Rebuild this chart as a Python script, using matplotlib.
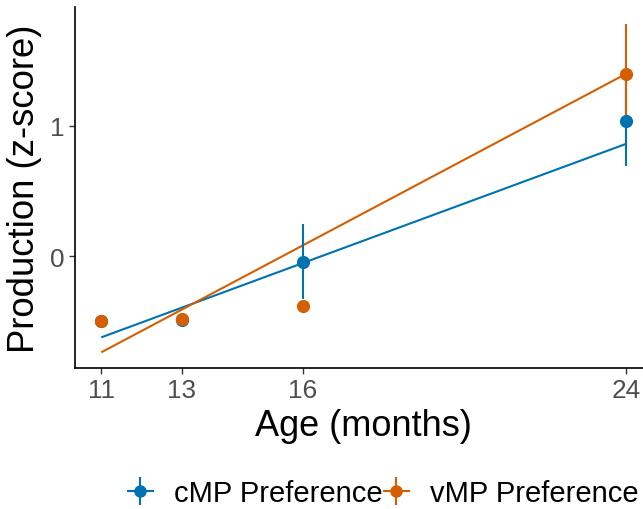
import matplotlib
matplotlib.use("Agg")
import matplotlib.pyplot as plt
from matplotlib.lines import Line2D
import numpy as np

plt.rcParams['font.family'] = ['Liberation Sans', 'DejaVu Sans']

# ---- data ----
ages = [11, 13, 16, 24]
series_names = ["cMP Preference", "vMP Preference"]
cmp_mean = [-0.494, -0.490, -0.041, 1.036]
cmp_err = [0.03, 0.03, 0.29, 0.34]
vmp_mean = [-0.494, -0.480, -0.384, 1.400]
vmp_err = [0.03, 0.03, 0.03, 0.38]
# fitted (model) line values at first and last age
fit_x = [11, 24]
cmp_fit = [-0.622, 0.862]
vmp_fit = [-0.737, 1.399]
x_ticks = [11, 13, 16, 24]
y_ticks = [0, 1]

colors = ["#0072B2", "#D55E00"]

W, H = 643, 510
fig = plt.figure(figsize=(W / 100, H / 100), dpi=100)
ax = fig.add_axes([75 / W, 1 - 369 / H, (652 - 75) / W, (369 - 8) / H])

means = [cmp_mean, vmp_mean]
errs = [cmp_err, vmp_err]
fits = [cmp_fit, vmp_fit]

for fit, c in zip(fits, colors):
    ax.plot(fit_x, fit, color=c, lw=1.5, zorder=2, solid_capstyle='butt')
for m, e, c in zip(means, errs, colors):
    ax.errorbar(ages, m, yerr=e, fmt='none', ecolor=c, elinewidth=1.5, capsize=0, zorder=3)
for m, c in zip(means, colors):
    ax.plot(ages, m, 'o', color=c, markersize=9.5, markeredgewidth=0, zorder=4)

ax.set_xlim(10.35, 24.65)
ax.set_ylim(-0.857, 1.913)
ax.set_xticks(x_ticks)
ax.set_yticks(y_ticks)
ax.tick_params(axis='both', labelsize=18.8, labelcolor='#4D4D4D', color='#333333',
               length=4, width=1)
ax.spines['top'].set_visible(False)
ax.spines['right'].set_visible(False)
for s in ['left', 'bottom']:
    ax.spines[s].set_linewidth(1.2)
    ax.spines[s].set_color('black')

ax.set_xlabel("Age (months)", fontsize=26, labelpad=4)
ax.set_ylabel("Production (z-score)", fontsize=26.3, labelpad=6)

handles = []
for c in colors:
    h1 = Line2D([], [], color=c, lw=1.5, marker='o', markersize=9, markeredgewidth=0)
    h2 = Line2D([], [], color=c, lw=0, marker='|', markersize=20, markeredgewidth=1.5)
    handles.append((h1, h2))
fig.legend(handles, series_names, loc='center left', ncol=2,
           bbox_to_anchor=(128 / W, 1 - 494 / H), bbox_transform=fig.transFigure,
           frameon=False, fontsize=21.0, handlelength=0.85, handletextpad=0.72,
           columnspacing=0.05, borderpad=0, borderaxespad=0)

fig.savefig("out.png", dpi=100)
